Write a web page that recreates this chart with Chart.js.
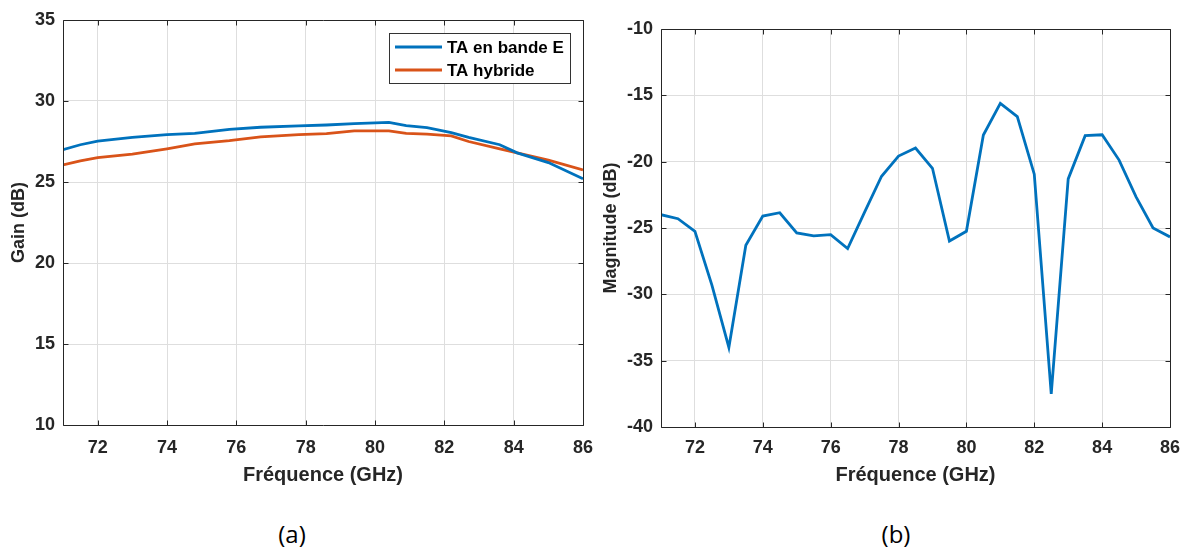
<!DOCTYPE html>
<html>
<head>
<meta charset="utf-8">
<script src="https://cdn.jsdelivr.net/npm/chart.js@4.4.1/dist/chart.umd.min.js"></script>
<style>
  html, body { margin: 0; padding: 0; background: #ffffff; }
  body { width: 1189px; height: 547px; position: relative; overflow: hidden; }
  .box { position: absolute; top: 0; height: 500px; }
  .cap { position: absolute; font-family: "Open Sans", "Liberation Sans", sans-serif; font-size: 24px; color: #000; transform: translate(-50%, -50%); white-space: nowrap; }
</style>
</head>
<body>
<div class="box" style="left:0;width:595px;"><canvas id="c1"></canvas></div>
<div class="box" style="left:595px;width:594px;"><canvas id="c2"></canvas></div>
<div class="cap" style="left:292px;top:533px;">(a)</div>
<div class="cap" style="left:896px;top:533px;">(b)</div>
<script>
// ---------- data ----------
const gainFreq   = [71, 71.5, 72, 73, 74, 74.8, 75.8, 76.7, 77.8, 78.6, 79.4, 80.4, 80.9, 81.5, 82.2, 82.7, 83.6, 84.1, 85, 86];
const gainBandE  = [27.0, 27.3, 27.53, 27.75, 27.92, 28.0, 28.25, 28.38, 28.47, 28.52, 28.6, 28.68, 28.48, 28.35, 28.05, 27.75, 27.3, 26.8, 26.2, 25.2];
const gainHybrid = [26.05, 26.3, 26.5, 26.72, 27.05, 27.35, 27.55, 27.78, 27.92, 27.98, 28.15, 28.15, 28.0, 27.95, 27.85, 27.5, 27.05, 26.8, 26.35, 25.75];

const magFreq = [71, 71.5, 72, 72.5, 73, 73.5, 74, 74.5, 75, 75.5, 76, 76.5, 77, 77.5, 78, 78.5, 79, 79.5, 80, 80.5, 81, 81.5, 82, 82.5, 83, 83.5, 84, 84.5, 85, 85.5, 86];
const magValues = [-24.0, -24.3, -25.25, -29.3, -34.0, -26.3, -24.1, -23.85, -25.37, -25.6, -25.5, -26.55, -23.8, -21.1, -19.58, -18.97, -20.5, -25.98, -25.25, -17.99, -15.6, -16.6, -20.94, -37.5, -21.3, -18.04, -17.97, -19.88, -22.65, -25.0, -25.67];

const xTicks = [72, 74, 76, 78, 80, 82, 84, 86];
const gainTicks = [10, 15, 20, 25, 30, 35];
const magTicks = [-40, -35, -30, -25, -20, -15, -10];

const seriesNames = ['TA en bande E', 'TA hybride'];
const labelsA = { x: 'Fréquence (GHz)', y: 'Gain (dB)' };
const labelsB = { x: 'Fréquence (GHz)', y: 'Magnitude (dB)' };

// ---------- styles ----------
const BLUE = '#0072BD', ORANGE = '#D95319', INK = '#262626', GRID = '#dedede';
const FONT = '"Liberation Sans", Arial, sans-serif';
const LW = 2.8;

const pts = (xs, ys) => xs.map((x, i) => ({ x: x, y: ys[i] }));

const boxPlugin = {
  id: 'matlabBox',
  afterDatasetsDraw(chart) {
    const { ctx, chartArea: a, scales } = chart;
    ctx.save();
    ctx.strokeStyle = INK;
    ctx.lineWidth = 1;
    ctx.beginPath();
    const L = Math.round(a.left) + 0.5, R = Math.round(a.right) + 0.5;
    const T = Math.round(a.top) + 0.5, B = Math.round(a.bottom) + 0.5;
    ctx.rect(L, T, R - L, B - T);
    const tl = 5;
    scales.x.ticks.forEach(t => {
      const px = Math.round(scales.x.getPixelForValue(t.value)) + 0.5;
      ctx.moveTo(px, B); ctx.lineTo(px, B - tl);
      ctx.moveTo(px, T); ctx.lineTo(px, T + tl);
    });
    scales.y.ticks.forEach(t => {
      const py = Math.round(scales.y.getPixelForValue(t.value)) + 0.5;
      ctx.moveTo(L, py); ctx.lineTo(L + tl, py);
      ctx.moveTo(R, py); ctx.lineTo(R - tl, py);
    });
    ctx.stroke();
    ctx.restore();
  }
};

const legendPlugin = {
  id: 'insideLegend',
  afterDraw(chart) {
    if (!chart.options.plugins.insideLegend || !chart.options.plugins.insideLegend.show) return;
    const { ctx, chartArea: a } = chart;
    const bx = a.left + 326, by = a.top + 13, bw = 181, bh = 50;
    ctx.save();
    ctx.fillStyle = '#ffffff';
    ctx.fillRect(bx, by, bw, bh);
    ctx.strokeStyle = '#333333';
    ctx.lineWidth = 1;
    ctx.strokeRect(Math.round(bx) + 0.5, Math.round(by) + 0.5, bw, bh);
    const rows = [a.top + 27, a.top + 50];
    chart.data.datasets.forEach((ds, i) => {
      ctx.strokeStyle = ds.borderColor;
      ctx.lineWidth = LW;
      ctx.beginPath();
      ctx.moveTo(a.left + 332, rows[i]);
      ctx.lineTo(a.left + 379, rows[i]);
      ctx.stroke();
      ctx.fillStyle = '#000000';
      ctx.font = 'bold 17px ' + FONT;
      ctx.textBaseline = 'middle';
      ctx.textAlign = 'left';
      ctx.fillText(ds.label, a.left + 384, rows[i] + 1);
    });
    ctx.restore();
  }
};

function makeOptions(cfg) {
  return {
    responsive: true,
    maintainAspectRatio: false,
    animation: false,
    layout: { padding: cfg.pad, autoPadding: false },
    plugins: { legend: { display: false }, tooltip: { enabled: false }, insideLegend: { show: cfg.legend } },
    elements: { point: { radius: 0 }, line: { tension: 0 } },
    scales: {
      x: {
        type: 'linear', min: 71, max: 86,
        afterBuildTicks: s => { s.ticks = xTicks.map(v => ({ value: v })); },
        afterFit: s => { s.height = cfg.xh; s.paddingLeft = 0; s.paddingRight = 0; },
        grid: { color: GRID, lineWidth: 1, drawTicks: false },
        border: { display: false },
        ticks: { color: INK, padding: cfg.xtp, font: { family: FONT, size: 18, weight: 'bold' }, maxRotation: 0 },
        title: { display: true, text: cfg.xl, color: INK, padding: { top: 0, bottom: 13 }, font: { family: FONT, size: 20, weight: 'bold' } }
      },
      y: {
        type: 'linear', min: cfg.ymin, max: cfg.ymax,
        afterBuildTicks: s => { s.ticks = cfg.yt.map(v => ({ value: v })); },
        afterFit: s => { s.width = cfg.yw; s.paddingTop = 0; s.paddingBottom = 0; },
        grid: { color: GRID, lineWidth: 1, drawTicks: false },
        border: { display: false },
        ticks: { color: INK, padding: 8, font: { family: FONT, size: 18, weight: 'bold' } },
        title: { display: true, text: cfg.yl, color: INK, padding: { top: cfg.ytp, bottom: 0 }, font: { family: FONT, size: 18, weight: 'bold' } }
      }
    }
  };
}

new Chart(document.getElementById('c1'), {
  type: 'line',
  data: {
    datasets: [
      { label: seriesNames[0], data: pts(gainFreq, gainBandE), borderColor: BLUE, borderWidth: LW, fill: false },
      { label: seriesNames[1], data: pts(gainFreq, gainHybrid), borderColor: ORANGE, borderWidth: LW, fill: false }
    ]
  },
  options: makeOptions({ pad: { top: 20, right: 12, left: 0, bottom: 0 }, xh: 75, yw: 63, xtp: 12, ytp: 8,
    ymin: 10, ymax: 35, yt: gainTicks, xl: labelsA.x, yl: labelsA.y, legend: true }),
  plugins: [boxPlugin, legendPlugin]
});

new Chart(document.getElementById('c2'), {
  type: 'line',
  data: {
    datasets: [
      { label: 'S11', data: pts(magFreq, magValues), borderColor: BLUE, borderWidth: LW, fill: false }
    ]
  },
  options: makeOptions({ pad: { top: 29, right: 19, left: 0, bottom: 0 }, xh: 73, yw: 66, xtp: 10, ytp: 5,
    ymin: -40, ymax: -10, yt: magTicks, xl: labelsB.x, yl: labelsB.y, legend: false }),
  plugins: [boxPlugin, legendPlugin]
});
</script>
</body>
</html>
